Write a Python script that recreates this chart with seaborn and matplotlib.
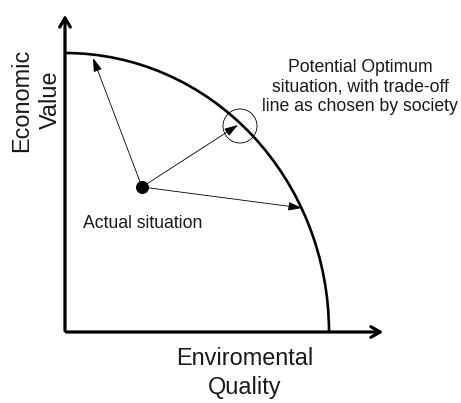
import numpy as np
import pandas as pd
import matplotlib
matplotlib.use('Agg')
import matplotlib.pyplot as plt
from matplotlib.patches import Arc, Circle
import seaborn as sns

# frontier (quarter ellipse) semi-axes
frontier_x_max = 264
frontier_y_max = 279

# actual situation
actual_x = [77]
actual_y = [145]

# arrow targets on/near the frontier
target_x = [28, 173, 237]
target_y = [274, 207, 124]

# highlighted optimum
optimum_x = 175
optimum_y = 206

axis_x_end = 321
axis_y_end = 320

sns.set_theme(style='white')
plt.rcParams['font.family'] = ['Liberation Sans', 'DejaVu Sans']

fig = plt.figure(figsize=(4.61, 4.03), dpi=100)
ax = fig.add_axes([0, 0, 1, 1])
ax.set_xlim(-65, 396)
ax.set_ylim(-71, 332)
ax.axis('off')

# axes with open arrowheads
ax.annotate('', xy=(0, axis_y_end), xytext=(0, -1.5),
            arrowprops=dict(arrowstyle='->,head_length=0.55,head_width=0.32', lw=2.3, color='black'))
ax.annotate('', xy=(axis_x_end, 0), xytext=(-1.5, 0),
            arrowprops=dict(arrowstyle='->,head_length=0.55,head_width=0.32', lw=2.3, color='black'))

# production possibility frontier
ax.add_patch(Arc((0, 0), 2 * frontier_x_max, 2 * frontier_y_max, theta1=0, theta2=90,
                 lw=1.9, color='black'))

# arrows from actual point
for tx, ty in zip(target_x, target_y):
    ax.annotate('', xy=(tx, ty), xytext=(actual_x[0], actual_y[0]),
                arrowprops=dict(arrowstyle='-|>,head_length=0.7,head_width=0.22', lw=0.6,
                                color='black', shrinkA=0, shrinkB=0))

df = pd.DataFrame({'x': actual_x, 'y': actual_y})
sns.scatterplot(data=df, x='x', y='y', s=75, color='black', edgecolor='black', ax=ax, zorder=5)
ax.set_xlabel('')
ax.set_ylabel('')

ax.add_patch(Circle((optimum_x, optimum_y), 17, fill=False, lw=0.6, color='black'))

ax.text(295, 245, 'Potential Optimum\nsituation, with trade-off\nline as chosen by society',
        ha='center', va='center', fontsize=12.7, linespacing=1.2, color='#1a1a1a')
ax.text(18, 108, 'Actual situation', ha='left', va='center', fontsize=12.7, color='#1a1a1a')
ax.text(-29, 232, 'Economic\nValue', ha='center', va='center', rotation=90,
        fontsize=16.9, linespacing=1.35, color='#1a1a1a')
ax.text(180, -41, 'Enviromental\nQuality', ha='center', va='center',
        fontsize=16.9, linespacing=1.35, color='#1a1a1a')

fig.savefig('out.png', dpi=100)
